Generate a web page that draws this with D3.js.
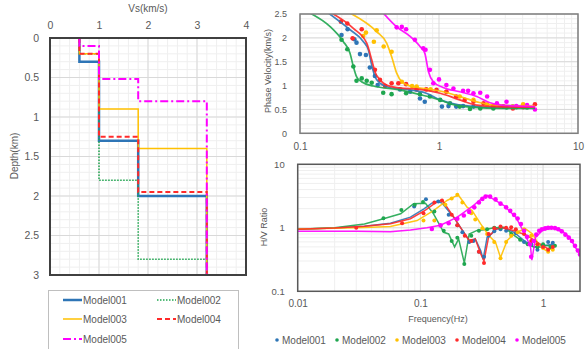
<!DOCTYPE html>
<html>
<head>
<meta charset="utf-8">
<script src="https://cdn.jsdelivr.net/npm/d3@7"></script>
<style>
  html, body { margin: 0; padding: 0; background: #fff; }
  svg { display: block; font-family: "Liberation Sans", Arial, sans-serif; }
  .tick text { fill: #595959; }
</style>
</head>
<body>
<svg id="chart" width="587" height="349"></svg>
<script>
// ---- Model names and colours ----
const models = ["Model001", "Model002", "Model003", "Model004", "Model005"];
const colors = ["#2e75b6", "#1fa64f", "#ffc000", "#ff2a2a", "#ff00ff"];

// ---- Vs profiles: layer velocities (km/s) and layer bottom depths (km) ----
const vs001 = [0.6, 1.0, 1.8, 3.2];
const depth001 = [0.3, 1.3, 2.0, 3.0];
const vs002 = [0.6, 1.0, 1.8, 3.2];
const depth002 = [0.2, 1.8, 2.8, 3.0];
const vs003 = [0.6, 1.0, 1.8, 3.2];
const depth003 = [0.2, 0.9, 1.4, 3.0];
const vs004 = [0.6, 1.0, 1.8, 3.2];
const depth004 = [0.2, 1.25, 1.95, 3.0];
const vs005 = [0.6, 1.0, 1.8, 3.2];
const depth005 = [0.1, 0.52, 0.8, 3.0];

const vsTicks = [0, 1, 2, 3, 4];
const depthTicks = [0, 0.5, 1, 1.5, 2, 2.5, 3];

// ---- Phase velocity dispersion: theoretical curves [freq Hz, km/s] ----
const pv001Line = [[0.16,2.52],[0.229,2.17],[0.286,1.92],[0.31,1.75],[0.328,1.43],[0.346,1.19],[0.376,1.05],[0.44,0.96],[0.62,0.91],[0.81,0.84],[1.02,0.70],[1.41,0.59],[2.46,0.545],[4.9,0.54]];
const pv002Line = [[0.118,2.52],[0.164,2.24],[0.205,1.92],[0.229,1.68],[0.242,1.40],[0.255,1.19],[0.277,1.08],[0.337,0.99],[0.52,0.91],[0.73,0.81],[1.01,0.70],[1.27,0.60],[1.67,0.55],[2.9,0.52],[4.9,0.52]];
const pv003Line = [[0.229,2.52],[0.356,2.13],[0.42,1.89],[0.456,1.61],[0.496,1.26],[0.54,1.08],[0.62,0.99],[0.91,0.91],[1.07,0.87],[1.41,0.77],[1.87,0.66],[2.46,0.59],[4.9,0.57]];
const pv004Line = [[0.169,2.52],[0.242,2.2],[0.302,1.89],[0.328,1.54],[0.346,1.29],[0.376,1.12],[0.42,1.01],[0.52,0.95],[0.73,0.92],[1.02,0.84],[1.41,0.70],[1.87,0.59],[2.6,0.56],[4.9,0.55]];
const pv005Line = [[0.397,2.52],[0.496,2.23],[0.62,2.03],[0.73,1.82],[0.79,1.68],[0.84,1.29],[0.91,1.08],[1.07,0.96],[1.41,0.87],[1.87,0.77],[2.33,0.64],[2.8,0.59],[4.9,0.56]];

// ---- Phase velocity dispersion: observed points [freq Hz, km/s] ----
const pv001Obs = [[0.199,2.06],[0.22,2.18],[0.246,1.97],[0.255,1.9],[0.27,1.66],[0.298,1.64],[0.318,1.38],[0.346,1.2],[0.362,1.01],[0.524,0.92],[0.62,0.87],[0.73,0.73],[0.79,0.66],[1.05,0.56],[1.17,0.57],[1.33,0.56],[1.49,0.57],[1.77,0.56],[2.46,0.545],[2.9,0.56],[3.4,0.56]];
const pv002Obs = [[0.199,1.96],[0.219,1.76],[0.242,1.4],[0.255,1.1],[0.278,1.15],[0.302,1.1],[0.328,1.06],[0.397,0.85],[0.456,0.82],[0.58,0.84],[0.73,0.82],[0.86,0.77],[1.02,0.7],[1.2,0.63],[1.41,0.56],[1.67,0.51],[1.98,0.52],[2.46,0.52],[3.06,0.54],[3.6,0.545],[4.3,0.54]];
const pv003Obs = [[0.285,2.04],[0.298,2.11],[0.34,1.92],[0.356,2.16],[0.4,1.82],[0.456,1.71],[0.54,1.08],[0.64,0.99],[0.69,0.98],[0.87,0.92],[1.13,0.87],[1.41,0.77],[1.77,0.7],[2.22,0.61],[2.75,0.56],[3.4,0.56],[4.03,0.61]];
const pv004Obs = [[0.197,2.34],[0.219,2.3],[0.239,1.99],[0.278,2.18],[0.346,1.33],[0.376,1.12],[0.409,0.99],[0.456,1.05],[0.51,1.05],[0.58,1.03],[0.69,0.92],[0.81,0.92],[0.96,0.91],[1.13,0.87],[1.33,0.77],[1.53,0.7],[1.77,0.66],[2.09,0.63],[2.46,0.57],[2.9,0.56],[3.4,0.52],[4.03,0.545],[4.9,0.61]];
const pv005Obs = [[0.496,2.22],[0.54,2.23],[0.58,2.18],[0.67,1.96],[0.77,1.78],[0.8,1.75],[0.86,1.33],[0.91,1.05],[1.0,1.13],[1.13,1.01],[1.27,0.94],[1.49,0.89],[1.62,0.89],[1.77,0.84],[1.98,0.85],[2.22,0.77],[2.61,0.63],[3.06,0.66],[3.6,0.57],[4.3,0.59],[4.9,0.5]];

const pvXTicks = [0.1, 1, 10];
const pvYTicks = [0, 0.5, 1, 1.5, 2, 2.5];

// ---- H/V spectral ratio: theoretical curves [freq Hz, ratio] ----
const hv001Line = [[0.01,0.95],[0.02,0.99],[0.035,1.06],[0.057,1.18],[0.083,1.47],[0.107,1.99],[0.124,2.44],[0.137,2.62],[0.15,2.45],[0.187,1.47],[0.22,0.91],[0.25,0.63],[0.264,0.62],[0.28,0.67],[0.31,0.44],[0.325,0.32],[0.35,0.71],[0.38,0.8],[0.42,0.96],[0.48,1.0],[0.58,0.85],[0.7,0.63],[0.84,0.5],[0.95,0.5],[1.08,0.53],[1.23,0.56]];
const hv002Line = [[0.01,0.95],[0.02,1.0],[0.035,1.15],[0.05,1.39],[0.069,1.66],[0.088,2.39],[0.11,2.44],[0.128,1.66],[0.155,0.85],[0.17,0.8],[0.19,0.5],[0.205,0.67],[0.228,0.28],[0.25,0.8],[0.29,0.91],[0.33,0.93],[0.4,1.0],[0.48,1.02],[0.58,0.76],[0.7,0.59],[0.84,0.5],[1.02,0.53],[1.23,0.51]];
const hv003Line = [[0.01,0.96],[0.02,0.98],[0.035,1.01],[0.057,1.05],[0.094,1.3],[0.128,1.87],[0.165,2.69],[0.19,3.1],[0.205,3.23],[0.24,2.11],[0.264,1.87],[0.31,1.15],[0.36,0.76],[0.41,0.59],[0.45,0.34],[0.51,0.63],[0.6,0.85],[0.72,0.96],[0.82,0.8],[0.93,0.53],[1.05,0.44],[1.2,0.47]];
const hv004Line = [[0.01,0.95],[0.02,0.99],[0.035,1.06],[0.057,1.16],[0.083,1.39],[0.11,1.9],[0.13,2.4],[0.15,2.76],[0.187,1.47],[0.22,0.91],[0.25,0.63],[0.28,0.67],[0.31,0.39],[0.33,0.3],[0.36,0.72],[0.41,0.96],[0.48,1.0],[0.58,0.9],[0.74,0.76],[0.9,0.59],[1.09,0.47],[1.23,0.5]];
const hv005Line = [[0.01,0.88],[0.03,0.88],[0.057,0.87],[0.083,0.92],[0.113,1.0],[0.146,1.1],[0.2,1.47],[0.27,2.24],[0.31,2.8],[0.35,3.23],[0.48,2.24],[0.6,1.47],[0.72,0.76],[0.79,0.5],[0.81,0.31],[0.87,0.71],[0.99,0.91],[1.2,1.0],[1.39,0.93],[1.64,0.71],[1.9,0.44],[2.0,0.37]];

// ---- H/V spectral ratio: observed points [freq Hz, ratio] ----
const hv001Obs = [[0.089,2.17],[0.111,2.82],[0.14,2.6],[0.17,1.6],[0.2,1.1],[0.22,0.85],[0.25,0.6],[0.27,0.62],[0.3,0.42],[0.33,0.35],[0.36,0.75],[0.4,0.88],[0.45,0.95],[0.5,0.9],[0.6,0.82],[0.7,0.6],[0.8,0.55],[0.9,0.45],[1.0,0.52],[1.1,0.6],[1.2,0.58]];
const hv002Obs = [[0.05,1.41],[0.07,1.9],[0.09,2.3],[0.105,2.55],[0.13,1.8],[0.155,0.9],[0.18,0.62],[0.2,0.7],[0.228,0.27],[0.26,0.75],[0.3,0.9],[0.35,0.95],[0.4,1.0],[0.45,1.0],[0.55,0.8],[0.65,0.65],[0.75,0.55],[0.9,0.5],[1.0,0.55],[1.15,0.5],[1.25,0.52]];
const hv003Obs = [[0.106,1.3],[0.13,1.3],[0.16,2.3],[0.18,2.9],[0.2,3.3],[0.22,2.5],[0.26,1.7],[0.28,1.35],[0.32,0.98],[0.35,0.8],[0.4,0.6],[0.45,0.33],[0.5,0.6],[0.55,0.75],[0.62,0.85],[0.7,0.95],[0.8,0.75],[0.9,0.55],[1.0,0.48],[1.1,0.42],[1.2,0.45]];
const hv004Obs = [[0.03,1.0],[0.071,1.18],[0.106,1.7],[0.13,2.5],[0.15,2.7],[0.18,1.6],[0.2,1.1],[0.23,0.75],[0.26,0.62],[0.3,0.42],[0.33,0.28],[0.36,0.8],[0.4,0.98],[0.45,1.05],[0.5,1.0],[0.55,1.02],[0.6,0.95],[0.7,0.8],[0.8,0.62],[0.9,0.55],[1.0,0.5],[1.1,0.45],[1.2,0.5]];
const hv005Obs = [[0.124,0.96],[0.146,1.09],[0.17,1.18],[0.2,1.39],[0.226,1.56],[0.25,1.78],[0.275,2.1],[0.3,2.5],[0.32,2.85],[0.34,3.1],[0.37,3.1],[0.41,2.8],[0.45,2.4],[0.5,2.1],[0.54,1.85],[0.58,1.6],[0.62,1.4],[0.66,1.15],[0.7,0.9],[0.74,0.72],[0.78,0.55],[0.8,0.35],[0.84,0.62],[0.88,0.78],[0.93,0.9],[0.98,0.95],[1.04,0.98],[1.1,1.0],[1.17,1.0],[1.25,0.99],[1.33,0.95],[1.42,0.88],[1.52,0.78],[1.62,0.7],[1.72,0.62],[1.82,0.52],[1.92,0.44],[2.0,0.38]];

const hvXTicks = [0.01, 0.1, 1];
const hvYTicks = [0.1, 1, 10];

// ---------------------------------------------------------------
const svg = d3.select("#chart");
svg.append("rect").attr("width", 587).attr("height", 349).attr("fill", "#fff");

const gridMajor = "#d9d9d9";
const gridMinor = "#efefef";

function styleAxis(size) {
  return g => {
    g.select(".domain").remove();
    g.selectAll(".tick line").remove();
    g.selectAll(".tick text").attr("font-size", size).attr("fill", "#595959");
  };
}

// ================= Vs profile (left) =================
const xL = d3.scaleLinear().domain([0, 4]).range([50, 246]);
const yL = d3.scaleLinear().domain([0, 3]).range([38, 275]);

const gL = svg.append("g");
// minor grid
gL.append("g").selectAll("line").data(d3.range(0, 4.001, 0.2)).join("line")
  .attr("x1", d => xL(d)).attr("x2", d => xL(d)).attr("y1", yL(0)).attr("y2", yL(3))
  .attr("stroke", gridMinor).attr("stroke-width", 1);
gL.append("g").selectAll("line").data(d3.range(0, 3.001, 0.1)).join("line")
  .attr("y1", d => yL(d)).attr("y2", d => yL(d)).attr("x1", xL(0)).attr("x2", xL(4))
  .attr("stroke", gridMinor).attr("stroke-width", 1);
// major grid
gL.append("g").selectAll("line").data(vsTicks).join("line")
  .attr("x1", d => xL(d)).attr("x2", d => xL(d)).attr("y1", yL(0)).attr("y2", yL(3))
  .attr("stroke", gridMajor).attr("stroke-width", 1);
gL.append("g").selectAll("line").data(depthTicks).join("line")
  .attr("y1", d => yL(d)).attr("y2", d => yL(d)).attr("x1", xL(0)).attr("x2", xL(4))
  .attr("stroke", gridMajor).attr("stroke-width", 1);

gL.append("g").attr("transform", `translate(0,${yL(0) - 6})`)
  .call(d3.axisTop(xL).tickValues(vsTicks).tickFormat(d3.format("~g")).tickSize(0))
  .call(styleAxis("10.5px"));
gL.append("g").attr("transform", `translate(${xL(0) - 8},0)`)
  .call(d3.axisLeft(yL).tickValues(depthTicks).tickFormat(d3.format("~g")).tickSize(0))
  .call(styleAxis("10.5px"));

gL.append("text").attr("x", 148).attr("y", 12).attr("text-anchor", "middle")
  .attr("font-size", "10px").attr("fill", "#595959").text("Vs(km/s)");
gL.append("text").attr("transform", `translate(18,156) rotate(-90)`).attr("text-anchor", "middle")
  .attr("font-size", "10px").attr("fill", "#595959").text("Depth(km)");

const profiles = [
  { vs: vs001, depth: depth001 }, { vs: vs002, depth: depth002 },
  { vs: vs003, depth: depth003 }, { vs: vs004, depth: depth004 },
  { vs: vs005, depth: depth005 }
];
const profileStyle = [
  { w: 2.5, dash: null },
  { w: 1.5, dash: "1.5 1.5" },
  { w: 1.5, dash: null },
  { w: 2, dash: "5 3" },
  { w: 2, dash: "8 3 2 3" }
];
function stepPoints(p) {
  const pts = [];
  let top = 0;
  p.vs.forEach((v, i) => {
    pts.push([v, top]);
    pts.push([v, p.depth[i]]);
    top = p.depth[i];
  });
  return pts;
}
const profLine = d3.line().x(d => xL(d[0])).y(d => yL(d[1]));
profiles.forEach((p, i) => {
  gL.append("path").datum(stepPoints(p))
    .attr("d", profLine).attr("fill", "none")
    .attr("stroke", colors[i]).attr("stroke-width", profileStyle[i].w)
    .attr("stroke-dasharray", profileStyle[i].dash);
});
gL.append("rect").attr("x", xL(0)).attr("y", yL(0)).attr("width", xL(4) - xL(0)).attr("height", yL(3) - yL(0))
  .attr("fill", "none").attr("stroke", "#404040").attr("stroke-width", 2);

// legend for profiles
const legL = svg.append("g");
legL.append("rect").attr("x", 48.5).attr("y", 290.5).attr("width", 190).attr("height", 62)
  .attr("fill", "#fff").attr("stroke", "#bfbfbf");
const legPos = [[63, 300], [157, 300], [63, 319], [157, 319], [63, 339]];
models.forEach((m, i) => {
  const [lx, ly] = legPos[i];
  legL.append("line").attr("x1", lx).attr("x2", lx + 19).attr("y1", ly).attr("y2", ly)
    .attr("stroke", colors[i]).attr("stroke-width", profileStyle[i].w)
    .attr("stroke-dasharray", profileStyle[i].dash);
  legL.append("text").attr("x", lx + 20).attr("y", ly + 4).attr("font-size", "10px")
    .attr("fill", "#595959").text(m);
});

// ================= Phase velocity (top right) =================
const xP = d3.scaleLog().domain([0.1, 10]).range([300, 578]);
const yP = d3.scaleLinear().domain([0, 2.5]).range([133.3, 14]);
const gP = svg.append("g");

function logMinor(lo, hi) {
  const out = [];
  for (let e = Math.floor(Math.log10(lo)); e < Math.ceil(Math.log10(hi)); e++) {
    for (let k = 2; k <= 9; k++) {
      const v = k * Math.pow(10, e);
      if (v > lo && v < hi) out.push(v);
    }
  }
  return out;
}

gP.append("g").selectAll("line").data(d3.range(0, 2.501, 0.1)).join("line")
  .attr("y1", d => yP(d)).attr("y2", d => yP(d)).attr("x1", xP(0.1)).attr("x2", xP(10))
  .attr("stroke", gridMinor);
gP.append("g").selectAll("line").data(logMinor(0.1, 10)).join("line")
  .attr("x1", d => xP(d)).attr("x2", d => xP(d)).attr("y1", yP(0)).attr("y2", yP(2.5))
  .attr("stroke", gridMinor);
gP.append("g").selectAll("line").data(pvYTicks).join("line")
  .attr("y1", d => yP(d)).attr("y2", d => yP(d)).attr("x1", xP(0.1)).attr("x2", xP(10))
  .attr("stroke", gridMajor);
gP.append("g").selectAll("line").data(pvXTicks).join("line")
  .attr("x1", d => xP(d)).attr("x2", d => xP(d)).attr("y1", yP(0)).attr("y2", yP(2.5))
  .attr("stroke", gridMajor);

gP.append("g").attr("transform", `translate(0,${yP(0) + 7})`)
  .call(d3.axisBottom(xP).tickValues(pvXTicks).tickFormat(d3.format("~g")).tickSize(0))
  .call(styleAxis("10px"));
gP.append("g").attr("transform", `translate(${xP(0.1) - 10},0)`)
  .call(d3.axisLeft(yP).tickValues(pvYTicks).tickFormat(d3.format("~g")).tickSize(0))
  .call(styleAxis("9px"));
gP.append("text").attr("transform", `translate(271,71) rotate(-90)`).attr("text-anchor", "middle")
  .attr("font-size", "9px").attr("fill", "#595959").text("Phase Velocity(km/s)");

svg.append("clipPath").attr("id", "clipP").append("rect")
  .attr("x", xP(0.1)).attr("y", yP(2.5)).attr("width", xP(10) - xP(0.1)).attr("height", yP(0) - yP(2.5));

const pvLines = [pv001Line, pv002Line, pv003Line, pv004Line, pv005Line];
const pvObs = [pv001Obs, pv002Obs, pv003Obs, pv004Obs, pv005Obs];
const lineP = d3.line().curve(d3.curveMonotoneX).x(d => xP(d[0])).y(d => yP(d[1]));
const gPc = gP.append("g").attr("clip-path", "url(#clipP)");
pvObs.forEach((obs, i) => {
  gPc.append("g").selectAll("circle").data(obs).join("circle")
    .attr("cx", d => xP(d[0])).attr("cy", d => yP(d[1])).attr("r", 2.3)
    .attr("fill", colors[i]);
});
pvLines.forEach((ln, i) => {
  gPc.append("path").datum(ln).attr("d", lineP).attr("fill", "none")
    .attr("stroke", colors[i]).attr("stroke-width", 1.7).attr("stroke-opacity", 0.9);
});
gP.append("rect").attr("x", xP(0.1)).attr("y", yP(2.5)).attr("width", xP(10) - xP(0.1)).attr("height", yP(0) - yP(2.5))
  .attr("fill", "none").attr("stroke", "#7f7f7f").attr("stroke-width", 1.5);

// ================= H/V ratio (bottom right) =================
const xH = d3.scaleLog().domain([0.01, 2]).range([297.7, 580]);
const yH = d3.scaleLog().domain([0.1, 10]).range([291.3, 164.3]);
const gH = svg.append("g");

gH.append("g").selectAll("line").data(logMinor(0.1, 10)).join("line")
  .attr("y1", d => yH(d)).attr("y2", d => yH(d)).attr("x1", xH(0.01)).attr("x2", xH(2))
  .attr("stroke", gridMinor);
gH.append("g").selectAll("line").data(logMinor(0.01, 2)).join("line")
  .attr("x1", d => xH(d)).attr("x2", d => xH(d)).attr("y1", yH(0.1)).attr("y2", yH(10))
  .attr("stroke", gridMinor);
gH.append("g").selectAll("line").data(hvYTicks).join("line")
  .attr("y1", d => yH(d)).attr("y2", d => yH(d)).attr("x1", xH(0.01)).attr("x2", xH(2))
  .attr("stroke", gridMajor);
gH.append("g").selectAll("line").data(hvXTicks).join("line")
  .attr("x1", d => xH(d)).attr("x2", d => xH(d)).attr("y1", yH(0.1)).attr("y2", yH(10))
  .attr("stroke", gridMajor);

gH.append("g").attr("transform", `translate(0,${yH(0.1) + 6})`)
  .call(d3.axisBottom(xH).tickValues(hvXTicks).tickFormat(d3.format("~g")).tickSize(0))
  .call(styleAxis("10px"));
gH.append("g").attr("transform", `translate(${xH(0.01) - 10},0)`)
  .call(d3.axisLeft(yH).tickValues(hvYTicks).tickFormat(d3.format("~g")).tickSize(0))
  .call(styleAxis("9.5px"));
gH.append("text").attr("x", 438).attr("y", 322).attr("text-anchor", "middle")
  .attr("font-size", "9px").attr("fill", "#595959").text("Frequency(Hz)");
gH.append("text").attr("transform", `translate(267,227) rotate(-90)`).attr("text-anchor", "middle")
  .attr("font-size", "9px").attr("fill", "#595959").text("H/V Ratio");

svg.append("clipPath").attr("id", "clipH").append("rect")
  .attr("x", xH(0.01)).attr("y", yH(10)).attr("width", xH(2) - xH(0.01)).attr("height", yH(0.1) - yH(10));

const hvLines = [hv001Line, hv002Line, hv003Line, hv004Line, hv005Line];
const hvObs = [hv001Obs, hv002Obs, hv003Obs, hv004Obs, hv005Obs];
const lineH = d3.line().x(d => xH(d[0])).y(d => yH(d[1]));
const gHc = gH.append("g").attr("clip-path", "url(#clipH)");
hvLines.forEach((ln, i) => {
  gHc.append("path").datum(ln).attr("d", lineH).attr("fill", "none")
    .attr("stroke", colors[i]).attr("stroke-width", 1.5).attr("stroke-opacity", 0.9);
});
hvObs.forEach((obs, i) => {
  gHc.append("g").selectAll("circle").data(obs).join("circle")
    .attr("cx", d => xH(d[0])).attr("cy", d => yH(d[1])).attr("r", i === 4 ? 2.3 : 2)
    .attr("fill", colors[i]);
});
gH.append("rect").attr("x", xH(0.01)).attr("y", yH(10)).attr("width", xH(2) - xH(0.01)).attr("height", yH(0.1) - yH(10))
  .attr("fill", "none").attr("stroke", "#595959").attr("stroke-width", 1.5);

// legend for the observed series
const legR = svg.append("g");
const legRx = [277, 337, 397, 457, 517];
models.forEach((m, i) => {
  legR.append("circle").attr("cx", legRx[i]).attr("cy", 340).attr("r", 1.8).attr("fill", colors[i]);
  legR.append("text").attr("x", legRx[i] + 5).attr("y", 343.5).attr("font-size", "10px")
    .attr("fill", "#595959").text(m);
});
</script>
</body>
</html>
